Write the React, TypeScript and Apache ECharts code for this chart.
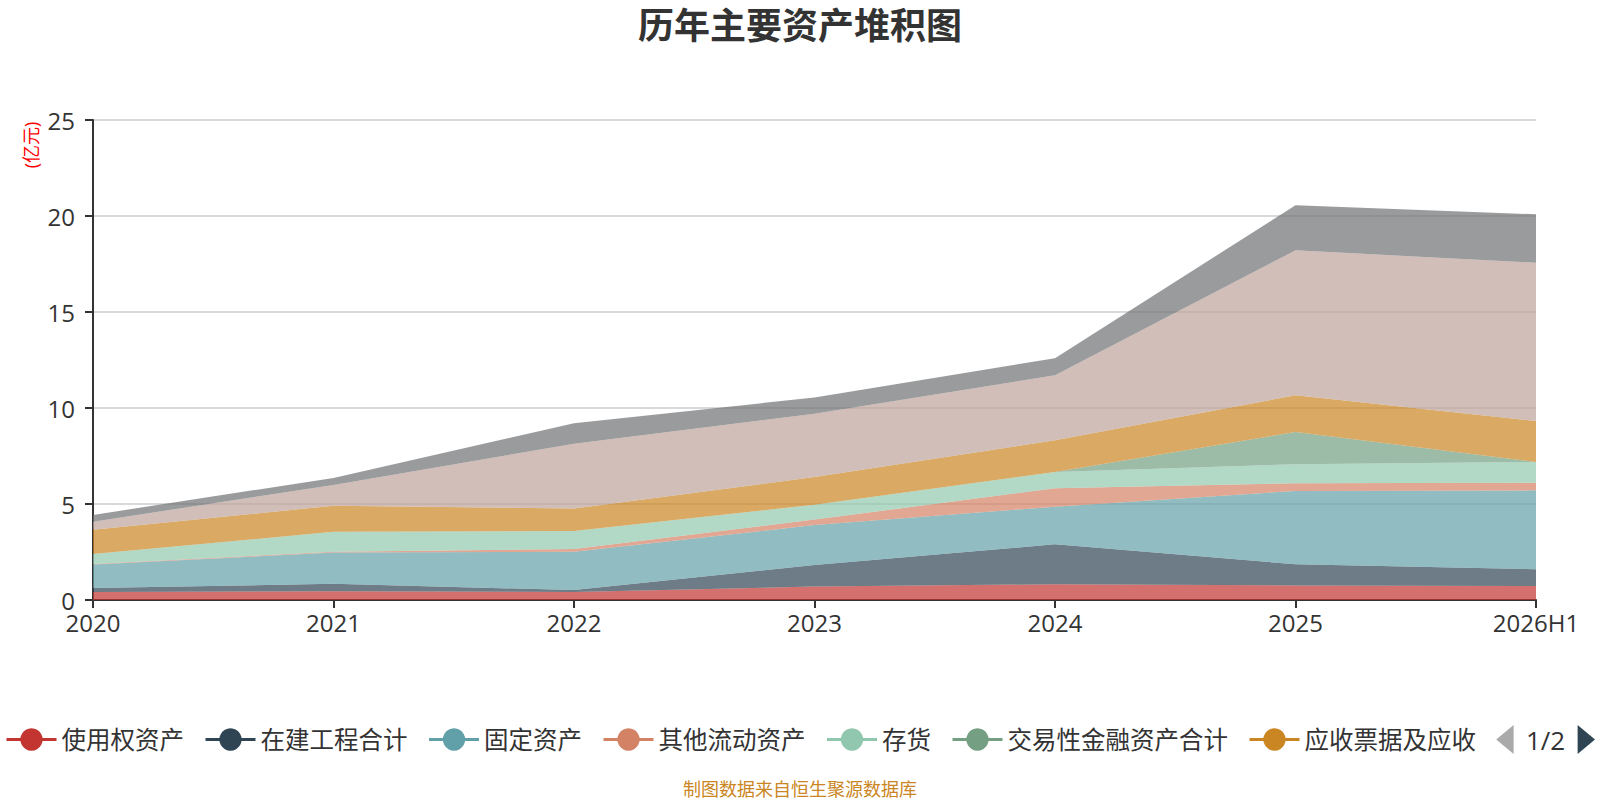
import React, { useEffect, useRef } from "react";
import * as echarts from "echarts";

const years = ["2020", "2021", "2022", "2023", "2024", "2025", "2026H1"];

// 亿元 (bottom to top)
const rouAssets = [0.42, 0.45, 0.42, 0.7, 0.82, 0.76, 0.73];
const cip = [0.21, 0.39, 0.1, 1.12, 2.08, 1.1, 0.87];
const fixedAssets = [1.22, 1.63, 1.99, 2.08, 1.96, 3.82, 4.11];
const otherCurrent = [0.03, 0.04, 0.14, 0.29, 0.96, 0.4, 0.4];
const inventory = [0.51, 1.04, 0.94, 0.77, 0.85, 0.99, 1.08];
const tradingFin = [0, 0, 0, 0, 0, 1.68, 0];
const receivables = [1.27, 1.36, 1.18, 1.44, 1.65, 1.91, 2.13];
const cash = [0.42, 1.08, 3.37, 3.3, 3.38, 7.55, 8.25];
const others = [0.35, 0.37, 1.06, 0.85, 0.89, 2.35, 2.52];

const seriesNames = [
  "使用权资产",
  "在建工程合计",
  "固定资产",
  "其他流动资产",
  "存货",
  "交易性金融资产合计",
  "应收票据及应收账款",
  "货币资金",
  "其他",
];
const seriesData = [
  rouAssets,
  cip,
  fixedAssets,
  otherCurrent,
  inventory,
  tradingFin,
  receivables,
  cash,
  others,
];

const yTicks = { min: 0, max: 25, interval: 5 };

const palette = [
  "#c23531",
  "#2f4554",
  "#61a0a8",
  "#d48265",
  "#91c7ae",
  "#749f83",
  "#ca8622",
  "#bda29a",
  "#6e7074",
];

const FONT = "'Open Sans', 'Noto Sans CJK SC', sans-serif";

const App = () => {
  const chartRef = useRef<HTMLDivElement>(null);

  useEffect(() => {
    document.body.style.margin = "0";
    if (!chartRef.current) return;
    const chart = echarts.init(chartRef.current, null, { renderer: "svg" });

    const option = {
      animation: false,
      color: palette,
      textStyle: { fontFamily: FONT },
      title: {
        text: "历年主要资产堆积图",
        left: "center",
        top: 2,
        textStyle: { fontSize: 36, fontWeight: "bold", color: "#333" },
      },
      legend: {
        type: "scroll",
        data: seriesNames,
        left: 0,
        right: 0,
        top: 720,
        itemWidth: 50,
        itemHeight: 28,
        itemGap: 20,
        textStyle: { fontSize: 24.5, color: "#333" },
        lineStyle: { width: 3, opacity: 1 },
        itemStyle: { opacity: 1 },
        pageIconSize: [18, 29],
        pageIconColor: "#2f4554",
        pageIconInactiveColor: "#aaa",
        pageButtonItemGap: 0,
        pageButtonGap: 20,
        pageTextStyle: { fontSize: 26, color: "#333" },
      },
      grid: { left: 93, right: 64, top: 120, bottom: 200 },
      xAxis: {
        type: "category",
        data: years,
        boundaryGap: false,
        axisLine: { lineStyle: { color: "#333", width: 2 } },
        axisTick: { length: 8, lineStyle: { color: "#333", width: 2 } },
        axisLabel: { fontSize: 24, color: "#333", margin: 10 },
      },
      yAxis: {
        type: "value",
        ...yTicks,
        axisLine: { show: true, lineStyle: { color: "#333", width: 2 } },
        axisTick: { show: true, length: 8, lineStyle: { color: "#333", width: 2 } },
        axisLabel: { fontSize: 24, color: "#333", margin: 18 },
        splitLine: { lineStyle: { color: "#ccc", width: 1.5 } },
      },
      graphic: [
        {
          type: "text",
          x: 31,
          y: 145,
          rotation: Math.PI / 2,
          style: {
            text: "(亿元)",
            fill: "#ff0000",
            fontSize: 18,
            fontFamily: FONT,
            align: "center",
            verticalAlign: "middle",
          },
        },
        {
          type: "text",
          x: 800,
          y: 789,
          style: {
            text: "制图数据来自恒生聚源数据库",
            fill: "#ca8622",
            fontSize: 18,
            fontFamily: FONT,
            align: "center",
            verticalAlign: "middle",
          },
        },
      ],
      series: seriesNames.map((name, i) => ({
        name,
        type: "line",
        stack: "total",
        data: seriesData[i],
        symbol: "circle",
        showSymbol: false,
        lineStyle: { width: 0 },
        areaStyle: { opacity: 0.7 },
      })),
    };

    chart.setOption(option as any);

    return () => {
      chart.dispose();
    };
  }, []);

  return <div ref={chartRef} style={{ width: 1600, height: 800 }} />;
};

export default App;
